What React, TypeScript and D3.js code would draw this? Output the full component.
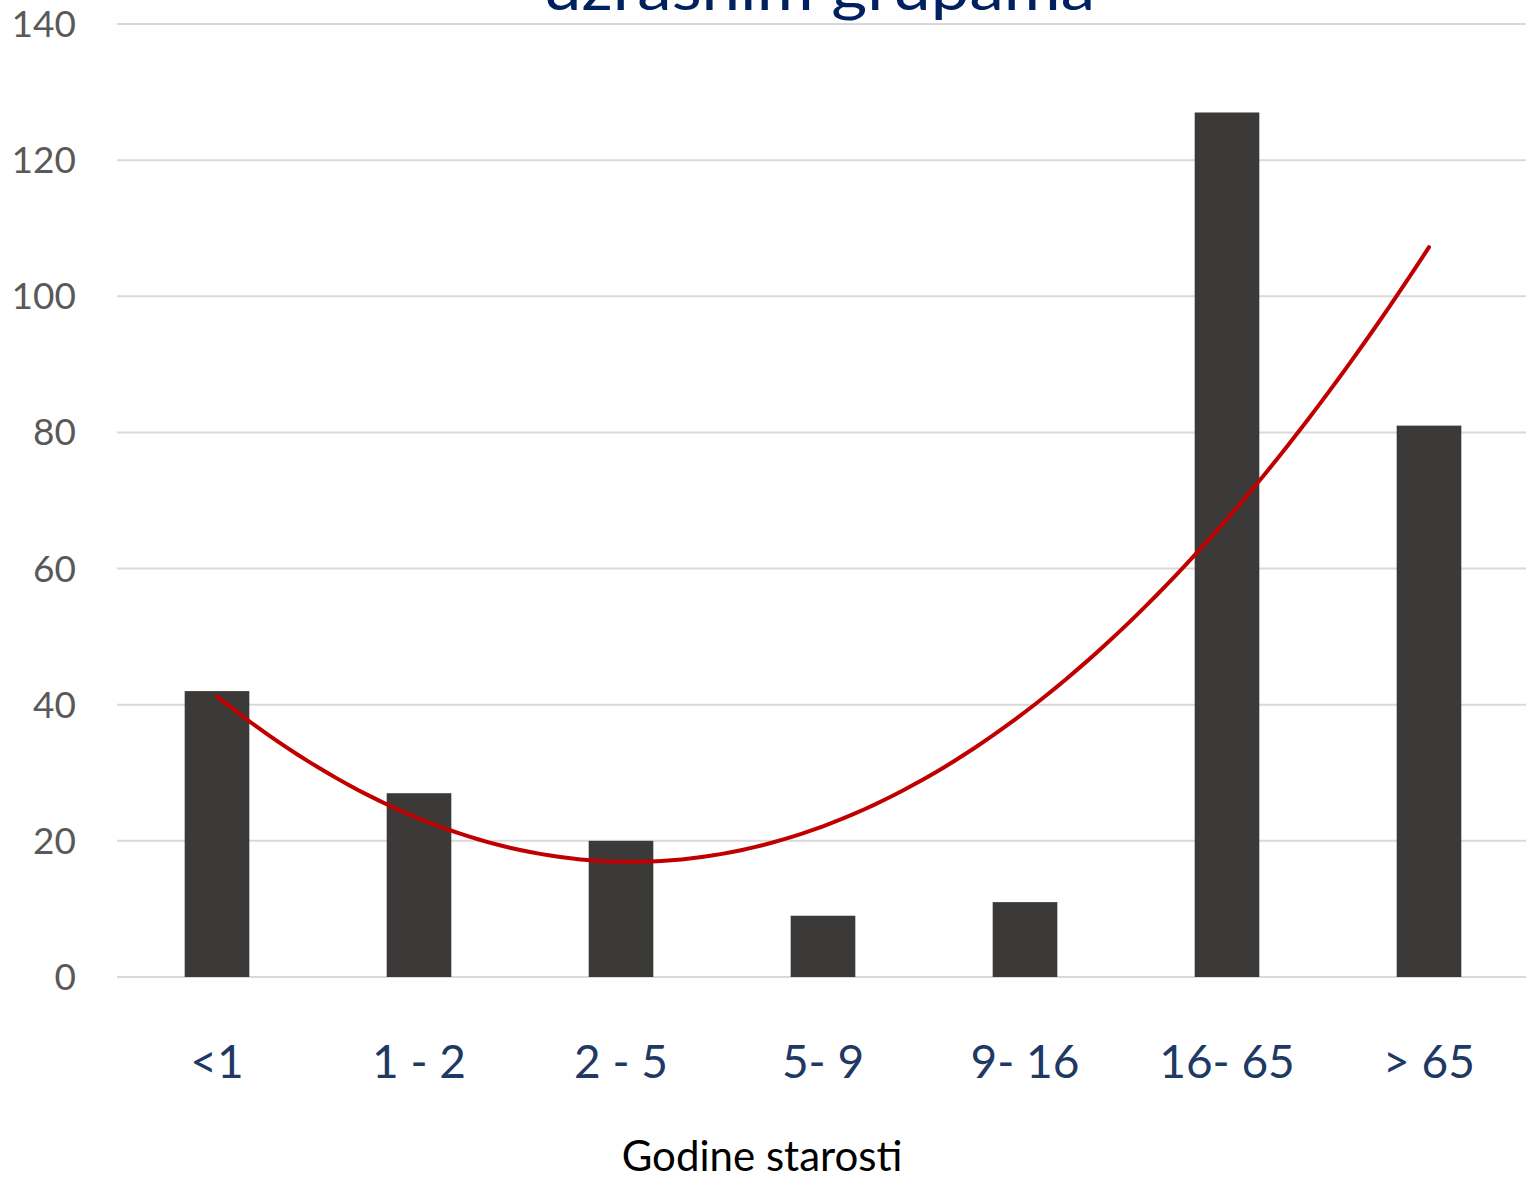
import React, { useEffect, useRef } from 'react';
import * as d3 from 'd3';

const categories = ['<1', '1 - 2', '2 - 5', '5- 9', '9- 16', '16- 65', '> 65'];
const values = [42, 27, 20, 9, 11, 127, 81];
const yTicks = [0, 20, 40, 60, 80, 100, 120, 140];
const titleText = 'uzrasnim grupama';
const xAxisTitle = 'Godine starosti';

const W = 1526;
const H = 1181;

// least squares 2nd order polynomial (Excel style trendline)
const polyFit = (ys: number[]) => {
  const xs = ys.map((_, i) => i + 1);
  const mx = d3.mean(xs)!;
  const t = xs.map(x => x - mx);
  const mt2 = d3.mean(t, v => v * v)!;
  const my = d3.mean(ys)!;
  const b = d3.sum(t, (v, i) => v * ys[i]) / d3.sum(t, v => v * v);
  const q = t.map(v => v * v - mt2);
  const c = d3.sum(q, (v, i) => v * ys[i]) / d3.sum(q, v => v * v);
  return (x: number) => {
    const tt = x - mx;
    return my + b * tt + c * (tt * tt - mt2);
  };
};

const App: React.FC = () => {
  const svgRef = useRef<SVGSVGElement>(null);

  useEffect(() => {
    document.body.style.margin = '0';
    if (!svgRef.current) return;
    const svg = d3.select(svgRef.current);
    svg.selectAll('*').remove();

    const left = 117;
    const right = W;
    const top = 24;
    const bottom = 977;

    const x = d3.scaleBand<string>().domain(categories).range([116, 1530]).paddingInner(0.68).paddingOuter(0.34);
    const y = d3.scaleLinear().domain([0, 140]).range([bottom, top]);

    // grid
    svg.append('g')
      .selectAll('line')
      .data(yTicks)
      .join('line')
      .attr('x1', left)
      .attr('x2', right)
      .attr('y1', d => y(d))
      .attr('y2', d => y(d))
      .attr('stroke', '#d9d9d9')
      .attr('stroke-width', 2);

    // y tick labels
    svg.append('g')
      .selectAll('text')
      .data(yTicks)
      .join('text')
      .attr('x', 76)
      .attr('y', d => y(d) + 13)
      .attr('text-anchor', 'end')
      .attr('fill', '#595959')
      .attr('font-family', 'Lato, sans-serif')
      .attr('font-size', 37)
      .text(d => d);

    // bars
    svg.append('g')
      .selectAll('rect')
      .data(values)
      .join('rect')
      .attr('x', (_, i) => x(categories[i])!)
      .attr('width', x.bandwidth())
      .attr('y', d => y(d))
      .attr('height', d => y(0) - y(d))
      .attr('fill', '#3b3a38');

    // trendline
    const fit = polyFit(values);
    const pts = d3.range(1, 7.001, 0.05);
    const cx = (v: number) => x(categories[0])! + x.bandwidth() / 2 + (v - 1) * x.step();
    const line = d3.line<number>().x(v => cx(v)).y(v => y(fit(v)));
    svg.append('path')
      .datum(pts)
      .attr('d', line)
      .attr('fill', 'none')
      .attr('stroke', '#c00000')
      .attr('stroke-width', 4)
      .attr('stroke-linecap', 'round');

    // category labels
    svg.append('g')
      .selectAll('text')
      .data(categories)
      .join('text')
      .attr('x', d => x(d)! + x.bandwidth() / 2)
      .attr('y', 1078)
      .attr('text-anchor', 'middle')
      .attr('fill', '#203864')
      .attr('font-family', 'Lato, sans-serif')
      .attr('font-size', 46)
      .text(d => d);

    // axis title
    svg.append('text')
      .attr('x', 762)
      .attr('y', 1171)
      .attr('text-anchor', 'middle')
      .attr('fill', '#000000')
      .attr('font-family', 'Lato, sans-serif')
      .attr('font-size', 42)
      .text(xAxisTitle);

    // chart title (cut at top, as in the original)
    svg.append('text')
      .attr('x', 543)
      .attr('y', 10)
      .attr('fill', '#002060')
      .attr('font-family', 'Lato, sans-serif')
      .attr('font-size', 60)
      .attr('textLength', 552)
      .attr('lengthAdjust', 'spacingAndGlyphs')
      .text(titleText);
  }, []);

  return (
    <svg ref={svgRef} width={W} height={H} style={{ display: 'block', background: '#fff' }} />
  );
};

export default App;
